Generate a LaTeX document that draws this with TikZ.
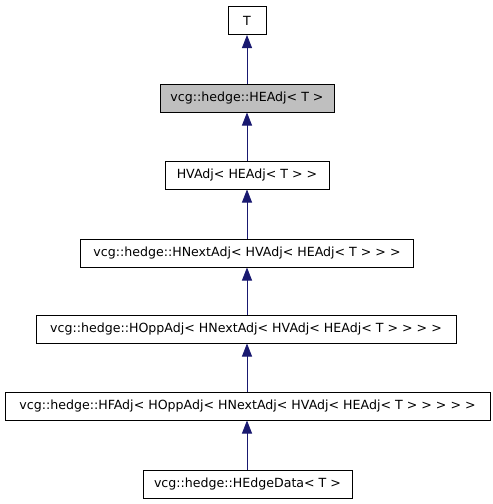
\documentclass[tikz,border=0pt]{standalone}
\usepackage{fontspec}
\setmainfont{DejaVu Sans}
\usepackage{tikz}
\usetikzlibrary{arrows.meta}

\definecolor{edgeblue}{RGB}{25,25,112}
\definecolor{curgray}{RGB}{191,191,191}

\tikzset{
    cls/.style={draw=black, fill=white, line width=1pt, minimum height=28pt,
        inner sep=0pt, font=\fontsize{12.6}{14}\selectfont},
    inherit/.style={draw=edgeblue, line width=0.8pt,
        -{Triangle[length=13pt,width=10pt,fill=edgeblue]}},
}

\begin{document}
\begin{tikzpicture}[x=1pt,y=-1pt]
\useasboundingbox (0,0) rectangle (493,504);

\node[cls, minimum width=38pt] (t) at (247,20.5) {T};
\node[cls, minimum width=174pt, fill=curgray] (headj) at (247,98) {vcg::hedge::HEAdj< T >};
\node[cls, minimum width=164pt] (hvadj) at (247,175) {HVAdj< HEAdj< T > >};
\node[cls, minimum width=333pt] (hnext) at (247,253) {vcg::hedge::HNextAdj< HVAdj< HEAdj< T > > >};
\node[cls, minimum width=420pt] (hopp) at (246,329) {vcg::hedge::HOppAdj< HNextAdj< HVAdj< HEAdj< T > > > >};
\node[cls, minimum width=485pt] (hf) at (247.5,406) {vcg::hedge::HFAdj< HOppAdj< HNextAdj< HVAdj< HEAdj< T > > > > >};
\node[cls, minimum width=209pt] (hedata) at (247.5,484) {vcg::hedge::HEdgeData< T >};

% inheritance edges, child to parent
\draw[inherit] (headj.north -| t.south) -- (t.south);
\draw[inherit] (hvadj.north -| t.south) -- (headj.south -| t.south);
\draw[inherit] (hnext.north -| t.south) -- (hvadj.south -| t.south);
\draw[inherit] (hopp.north -| t.south) -- (hnext.south -| t.south);
\draw[inherit] (hf.north -| t.south) -- (hopp.south -| t.south);
\draw[inherit] (hedata.north -| t.south) -- (hf.south -| t.south);
\end{tikzpicture}
\end{document}
